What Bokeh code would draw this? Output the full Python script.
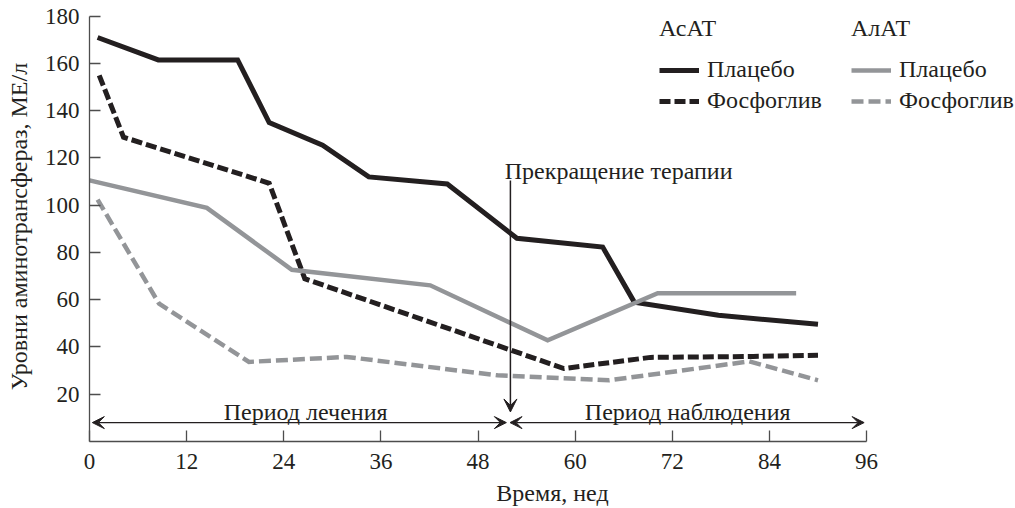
from bokeh.plotting import figure
from bokeh.models import (Range1d, FixedTicker, Legend, LegendItem, Arrow,
                          VeeHead, Label)
from bokeh.embed import file_html
from bokeh.resources import INLINE

# ---- data (weeks, IU/L) ----
asat_placebo_weeks = [1, 8.5, 18.3, 22.2, 28.8, 34.5, 44.2, 52.8, 63.4, 67.3, 77.7, 90]
asat_placebo = [171, 161.5, 161.5, 135, 125.4, 112, 109, 86, 82.3, 59, 53.4, 49.6]

asat_phos_weeks = [1.2, 4.2, 22.2, 26.6, 58.6, 69.3, 82, 90]
asat_phos = [155, 128.8, 109.3, 68.9, 30.9, 35.6, 36, 36.5]

alat_placebo_weeks = [0, 14.5, 25, 42.1, 56.6, 70.2, 87.3]
alat_placebo = [110.5, 98.9, 72.7, 66.1, 42.8, 62.8, 62.8]

alat_phos_weeks = [1, 8.6, 19.7, 31.8, 50.4, 64.2, 81.5, 90]
alat_phos = [102.4, 58.3, 33.7, 35.8, 28, 25.9, 33.9, 25.9]

x_ticks = [0, 12, 24, 36, 48, 60, 72, 84, 96]
y_ticks = [20, 40, 60, 80, 100, 120, 140, 160, 180]

stop_week = 52
group_labels = ["АсАТ", "АлАТ"]
series_labels = ["Плацебо", "Фосфоглив"]

BLACK = "#231f20"
GRAY = "#939598"
AXIS = "#4d4d4d"
FONT = "Liberation Serif"

p = figure(width=1015, height=508, output_backend="svg", toolbar_location=None,
           x_range=Range1d(0, 114.4), y_range=Range1d(0, 182),
           min_border_left=89, min_border_right=0, min_border_top=11,
           min_border_bottom=67)
p.grid.visible = False
p.outline_line_color = None

for ax in (p.xaxis[0], p.yaxis[0]):
    ax.axis_line_color = AXIS
    ax.axis_line_width = 1.3
    ax.major_tick_line_color = AXIS
    ax.major_tick_line_width = 1.3
    ax.major_tick_in = 11
    ax.major_tick_out = 0
    ax.minor_tick_line_color = None
    ax.major_label_text_font = FONT
    ax.major_label_text_font_size = "23px"
    ax.major_label_text_color = BLACK
    ax.axis_label_text_font = FONT
    ax.axis_label_text_font_size = "24px"
    ax.axis_label_text_font_style = "normal"
    ax.axis_label_text_color = BLACK

p.xaxis.ticker = FixedTicker(ticks=x_ticks)
p.xaxis.bounds = (0, 96)
p.xaxis.major_label_standoff = 12
p.xaxis.axis_label = "Время, нед"
p.xaxis.axis_label_standoff = 8

p.yaxis.ticker = FixedTicker(ticks=y_ticks)
p.yaxis.bounds = (0, 180)
p.yaxis.major_label_standoff = 10
p.yaxis.axis_label = "Уровни аминотрансфераз, МЕ/л"
p.yaxis.axis_label_standoff = 10

r1 = p.line(asat_placebo_weeks, asat_placebo, line_color=BLACK, line_width=5,
            line_join="miter")
r2 = p.line(asat_phos_weeks, asat_phos, line_color=BLACK, line_width=5,
            line_dash="11 4", line_join="miter")
r3 = p.line(alat_placebo_weeks, alat_placebo, line_color=GRAY, line_width=4.5,
            line_join="miter")
r4 = p.line(alat_phos_weeks, alat_phos, line_color=GRAY, line_width=4.5,
            line_dash="12 5", line_join="miter")

def make_legend(title, rs, loc):
    lg = Legend(items=[LegendItem(label=series_labels[i], renderers=[rs[i]]) for i in range(2)],
                title=title, location=loc, orientation="vertical",
                glyph_width=40, glyph_height=26, label_height=26, label_standoff=8,
                spacing=4, padding=0, margin=0, title_standoff=14,
                border_line_alpha=0, background_fill_alpha=0,
                label_text_font=FONT, label_text_font_size="24px",
                label_text_color=BLACK,
                title_text_font=FONT, title_text_font_size="24px",
                title_text_font_style="normal", title_text_color=BLACK)
    p.add_layout(lg, "center")

make_legend(group_labels[0], [r1, r2], (570, 327))
make_legend(group_labels[1], [r3, r4], (762, 327))

# therapy stop arrow
p.add_layout(Arrow(x_start=stop_week, y_start=110.5, x_end=stop_week, y_end=12.5,
                   line_color=BLACK, line_width=1.5,
                   end=VeeHead(size=13, fill_color=BLACK, line_color=BLACK)))
p.add_layout(Label(x=51.3, y=114.7, text="Прекращение терапии", text_font=FONT,
                   text_font_size="24px", text_color=BLACK,
                   text_baseline="alphabetic"))

# period arrows
for xs, xe in ((0.35, 51.5), (51.95, 95.7)):
    p.add_layout(Arrow(x_start=xs, y_start=8, x_end=xe, y_end=8,
                       line_color=BLACK, line_width=1.2,
                       start=VeeHead(size=12, fill_color=BLACK, line_color=BLACK),
                       end=VeeHead(size=12, fill_color=BLACK, line_color=BLACK)))
p.add_layout(Label(x=26.7, y=12.4, text="Период лечения", text_font=FONT,
                   text_font_size="24px", text_color=BLACK, text_align="center",
                   text_baseline="alphabetic"))
p.add_layout(Label(x=73.9, y=12.4, text="Период наблюдения", text_font=FONT,
                   text_font_size="24px", text_color=BLACK, text_align="center",
                   text_baseline="alphabetic"))

open("out.html", "w").write(file_html(p, INLINE))
